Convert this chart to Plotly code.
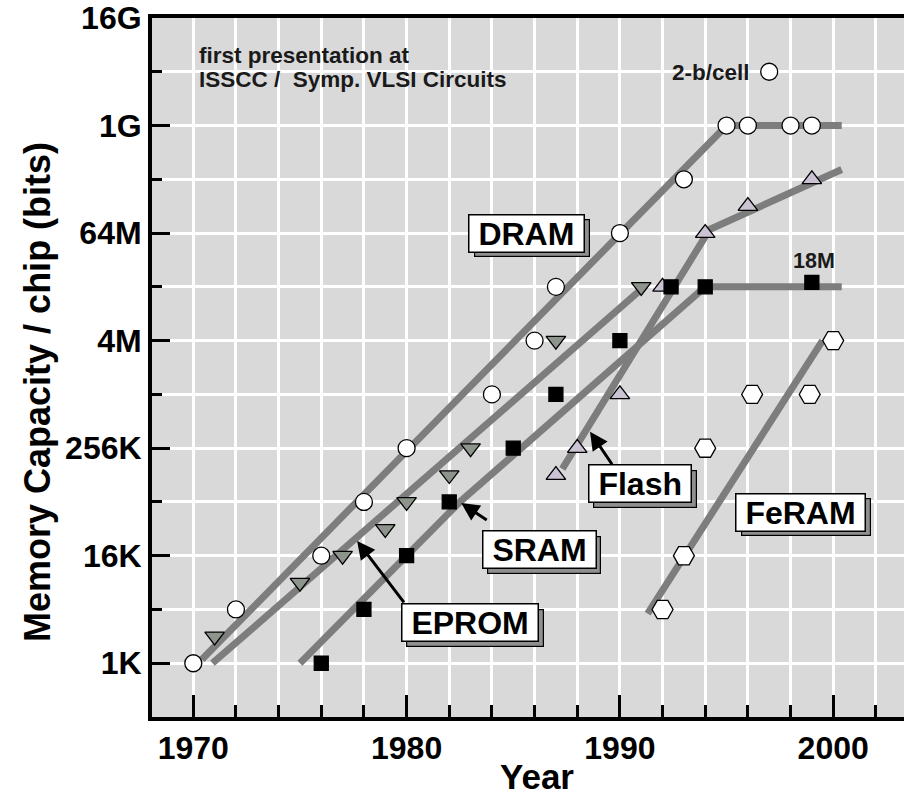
import math
import plotly.graph_objects as go

K = 1024
M = K * K
G = K * M

# ---- data ----
dram_years = [1970, 1972, 1976, 1978, 1980, 1984, 1986, 1987, 1990, 1993, 1995, 1996, 1998, 1999]
dram_bits = [1*K, 4*K, 16*K, 64*K, 256*K, 1*M, 4*M, 16*M, 64*M, 256*M, 1*G, 1*G, 1*G, 1*G]
dram2_years = [1997]
dram2_bits = [4*G]

eprom_years = [1971, 1975, 1977, 1979, 1980, 1982, 1983, 1987, 1991]
eprom_bits = [2*K, 8*K, 16*K, 32*K, 64*K, 128*K, 256*K, 4*M, 16*M]

sram_years = [1976, 1978, 1980, 1982, 1985, 1987, 1990, 1992.4, 1994, 1999]
sram_bits = [1*K, 4*K, 16*K, 64*K, 256*K, 1*M, 4*M, 16*M, 16*M, 18*M]

flash_years = [1987, 1988, 1990, 1992, 1994, 1996, 1999]
flash_bits = [128*K, 256*K, 1*M, 16*M, 64*M, 128*M, 256*M]

feram_years = [1992, 1993, 1994, 1996.2, 1998.9, 2000]
feram_bits = [4*K, 16*K, 256*K, 1*M, 1*M, 4*M]

# trend lines
dram_trend_years = [1970.4, 1995, 2000.4]
dram_trend_bits = [1.1*K, 1*G, 1*G]
eprom_trend_years = [1970.9, 1991.2]
eprom_trend_bits = [1*K, 16.5*M]
sram_trend_years = [1975.0, 1982.5, 1994.0, 2000.4]
sram_trend_bits = [1*K, 64*K, 16*M, 16*M]
flash_trend_years = [1987.3, 1994.2, 2000.4]
flash_trend_bits = [150*K, 70*M, 330*M]
feram_trend_years = [1991.3, 1999.5]
feram_trend_bits = [3.6*K, 4*M]

y_tickvals = [1*K, 16*K, 256*K, 4*M, 64*M, 1*G, 16*G]
y_ticktext = ["1K", "16K", "256K", "4M", "64M", "1G", "16G"]
y_minorvals = [4*K, 64*K, 1*M, 16*M, 256*M, 4*G]
x_tickvals = [1970, 1980, 1990, 2000]
x_minorvals = list(range(1968, 2004, 2))

FONT = "Arial, Liberation Sans, Helvetica, sans-serif"
LINE_COLOR = "#7d7d7d"
BG = "#d9d9d9"

fig = go.Figure()

for xs, ys in [(dram_trend_years, dram_trend_bits), (eprom_trend_years, eprom_trend_bits),
               (sram_trend_years, sram_trend_bits), (flash_trend_years, flash_trend_bits),
               (feram_trend_years, feram_trend_bits)]:
    fig.add_trace(go.Scatter(x=xs, y=ys, mode="lines",
                             line=dict(color=LINE_COLOR, width=7),
                             hoverinfo="skip", showlegend=False))

def add_markers(xs, ys, symbol, fill, size):
    fig.add_trace(go.Scatter(x=xs, y=ys, mode="markers", showlegend=False,
                             marker=dict(symbol=symbol, size=size, color=fill,
                                         line=dict(color="black", width=1.3))))

add_markers(eprom_years, eprom_bits, "triangle-down", "#8c948c", 17)
add_markers(flash_years, flash_bits, "triangle-up", "#cbc3d3", 17)
add_markers(sram_years, sram_bits, "square", "black", 14)
add_markers(feram_years, feram_bits, "hexagon2", "white", 21)
add_markers(dram_years, dram_bits, "circle", "white", 17)
add_markers(dram2_years, dram2_bits, "circle", "white", 17)

L2 = math.log10(2)
def ly(log2v):
    return log2v * L2

NB = "\u00a0"
ann = []
# boxed labels with shadows
labels = [("DRAM", 1985.64, 25.99), ("Flash", 1990.94, 16.67), ("SRAM", 1986.21, 14.23),
          ("EPROM", 1982.99, 11.5), ("FeRAM", 1998.49, 15.61)]
for txt, xv, l2 in labels:
    t = NB + txt + NB
    ann.append(dict(x=xv, y=ly(l2), xref="x", yref="y", text=t, showarrow=False,
                    xshift=5, yshift=-5,
                    font=dict(family=FONT, size=32, color="#8f8f8f", weight="bold"),
                    bgcolor="#8f8f8f", bordercolor="black", borderwidth=1.2, borderpad=0))
    ann.append(dict(x=xv, y=ly(l2), xref="x", yref="y", text=t, showarrow=False,
                    font=dict(family=FONT, size=32, color="black", weight="bold"),
                    bgcolor="white", bordercolor="black", borderwidth=1.5, borderpad=0))

# arrows
for xv, l2, axp, ayp in [(1988.6, 18.61, 23, 34), (1982.56, 15.96, 27, 18), (1977.68, 14.55, 48, 63)]:
    ann.append(dict(x=xv, y=ly(l2), xref="x", yref="y", text="", showarrow=True,
                    ax=axp, ay=ayp, arrowhead=2, arrowsize=1.2, arrowwidth=3,
                    arrowcolor="black", standoff=0))

# free text
ann.append(dict(x=1970.18, y=ly(32.59), xref="x", yref="y", text="first presentation at",
                xanchor="left", showarrow=False,
                font=dict(family=FONT, size=22.5, color="#1a1a1a", weight="bold")))
ann.append(dict(x=1970.18, y=ly(31.70), xref="x", yref="y",
                text="ISSCC /" + NB + " Symp. VLSI Circuits",
                xanchor="left", showarrow=False,
                font=dict(family=FONT, size=22.5, color="#1a1a1a", weight="bold")))
ann.append(dict(x=1996.2, y=ly(31.96), xref="x", yref="y", text="2-b/cell",
                xanchor="right", showarrow=False,
                font=dict(family=FONT, size=22.5, color="#1a1a1a", weight="bold")))
ann.append(dict(x=1999.1, y=ly(24.97), xref="x", yref="y", text="18M",
                showarrow=False,
                font=dict(family=FONT, size=21.5, color="#1a1a1a", weight="bold")))

# axis titles (placed as annotations to match the reference's offsets)
ann.append(dict(x=(537 - 152) / 752, y=(717 - 776) / 699, xref="paper", yref="paper",
                text="Year", showarrow=False, xanchor="center", yanchor="middle",
                font=dict(family=FONT, size=35, color="black", weight="bold")))
ann.append(dict(x=(37 - 152) / 752, y=(717 - 392) / 699, xref="paper", yref="paper",
                text="Memory Capacity / chip (bits)", textangle=-90, showarrow=False,
                xanchor="center", yanchor="middle",
                font=dict(family=FONT, size=36, color="black", weight="bold")))

fig.update_layout(
    width=904, height=798,
    margin=dict(l=152, r=0, t=18, b=81),
    paper_bgcolor="white",
    plot_bgcolor=BG,
    annotations=ann,
    showlegend=False,
    font=dict(family=FONT, color="black"),
    shapes=[dict(type="rect", xref="paper", yref="paper", x0=0, x1=1, y0=0, y1=1,
                 fillcolor=BG, line=dict(width=0), layer="below")],
)

fig.update_xaxes(
    range=[1968.064, 2003.32],
    tickmode="array", tickvals=x_tickvals,
    ticks="inside", ticklen=22, tickwidth=3, tickcolor="black",
    showline=True, linewidth=4, linecolor="black", mirror=True,
    showgrid=True, gridcolor="white", gridwidth=3,
    zeroline=False, layer="above traces",
    tickfont=dict(family=FONT, size=32, color="black", weight="bold"),
    minor=dict(tickmode="array", tickvals=x_minorvals, ticks="inside", ticklen=12,
               tickwidth=3, tickcolor="black", showgrid=True, gridcolor="white", gridwidth=3),
)

fig.update_yaxes(
    type="log",
    range=[ly(8), ly(34)],
    tickmode="array", tickvals=y_tickvals, ticktext=y_ticktext,
    ticks="inside", ticklen=18, tickwidth=3, tickcolor="black",
    showline=True, linewidth=4, linecolor="black", mirror=False,
    showgrid=True, gridcolor="white", gridwidth=3,
    zeroline=False,
    tickfont=dict(family=FONT, size=32, color="black", weight="bold"),
    minor=dict(tickmode="array", tickvals=y_minorvals, ticks="inside", ticklen=10,
               tickwidth=3, tickcolor="black", showgrid=True, gridcolor="white", gridwidth=3),
)

fig.write_html("out.html")
